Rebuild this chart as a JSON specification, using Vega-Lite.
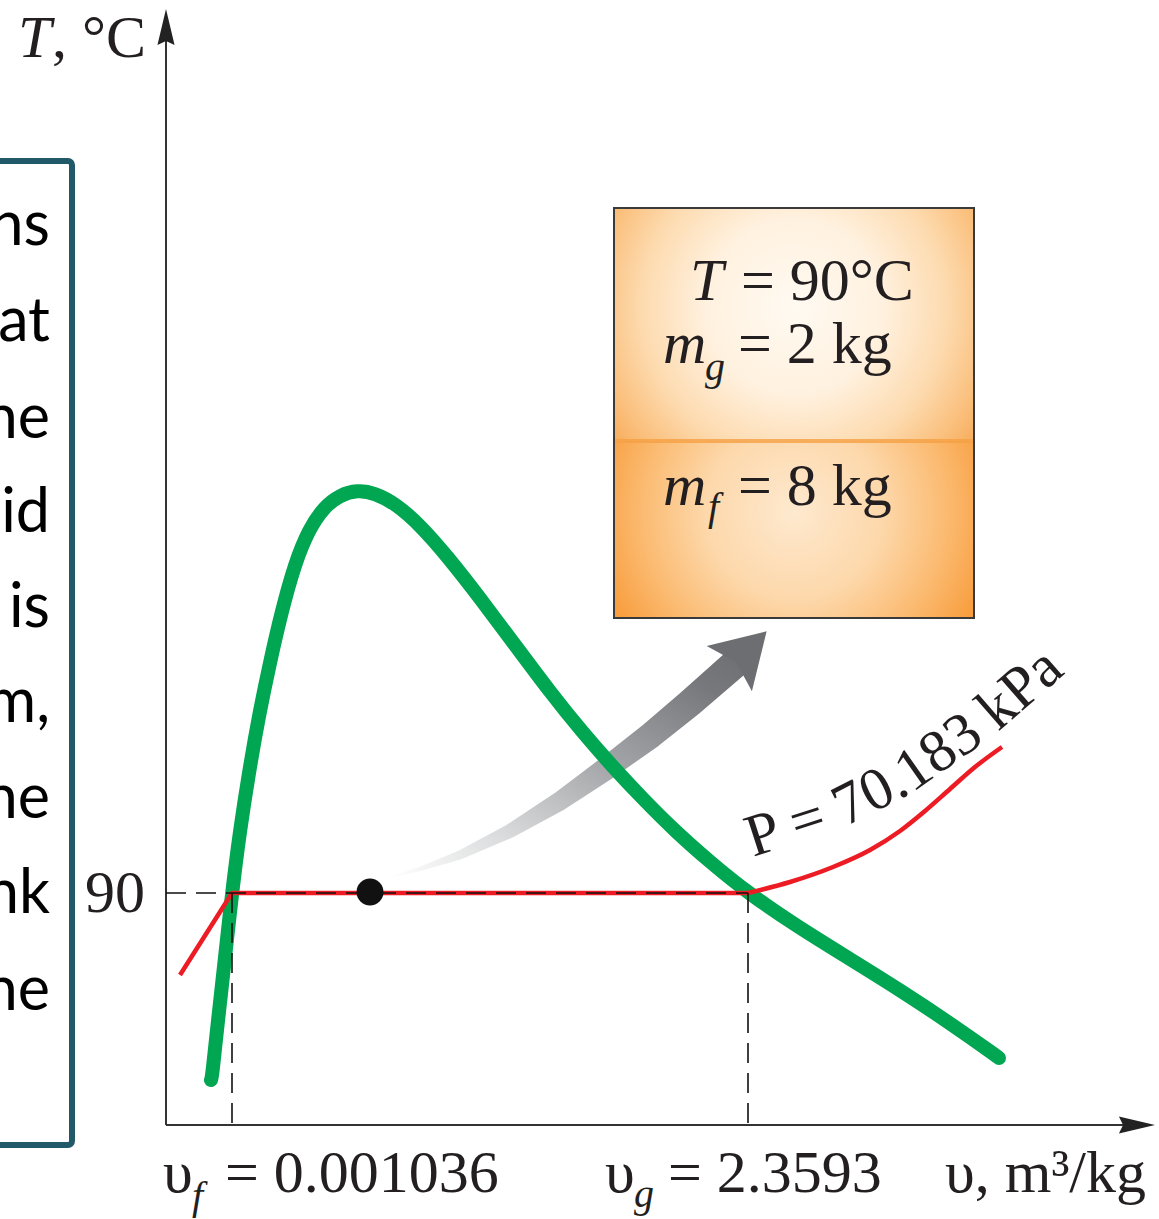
{
"$schema": "https://vega.github.io/schema/vega-lite/v6.json",
"width": 1159, "height": 1219, "padding": 0, "autosize": {"type": "none"},
"background": "white",
"config": {"view": {"stroke": null}},
"datasets": {
 "leftbox": [{"x": -20, "x2": 72, "y": 161, "y2": 1145}],
 "lefttext": [{"x":50,"y":245,"t":"ns"},{"x":50,"y":341,"t":"at"},{"x":50,"y":438,"t":"he"},{"x":50,"y":532,"t":"id"},{"x":50,"y":627,"t":"is"},{"x":50,"y":722,"t":"m,"},{"x":50,"y":818,"t":"he"},{"x":50,"y":913,"t":"nk"},{"x":50,"y":1010,"t":"he"}],
 "axes": [{"x":166,"y":1125,"x2":166,"y2":40},{"x":166,"y":1125,"x2":1140,"y2":1125}],
 "yarrow": [{"x":166,"y":28}],
 "xarrow": [{"x":1136,"y":1125}],
 "trail": [{"x":388,"y":878,"s":1,"o":1},{"x":420,"y":869,"s":4,"o":2},{"x":460,"y":855,"s":9,"o":3},{"x":510,"y":831,"s":14,"o":4},{"x":560,"y":801,"s":19,"o":5},{"x":607,"y":768,"s":23,"o":6},{"x":650,"y":736,"s":26,"o":7},{"x":690,"y":703,"s":28,"o":8},{"x":738,"y":661,"s":29,"o":9}],
 "ghead": [{"x":744,"y":654}],
 "green": [{"x":211,"y":1080,"o":1},{"x":212,"y":1078,"o":2},{"x":218,"y":1020,"o":3},{"x":225,"y":958,"o":4},{"x":232,"y":893,"o":5},{"x":240,"y":830,"o":6},{"x":249,"y":772,"o":7},{"x":259,"y":715,"o":8},{"x":270,"y":662,"o":9},{"x":282,"y":610,"o":10},{"x":295,"y":563,"o":11},{"x":309,"y":529,"o":12},{"x":324,"y":507,"o":13},{"x":340,"y":495,"o":14},{"x":357,"y":490,"o":15},{"x":375,"y":493,"o":16},{"x":396,"y":504,"o":17},{"x":420,"y":525,"o":18},{"x":448,"y":557,"o":19},{"x":480,"y":598,"o":20},{"x":515,"y":645,"o":21},{"x":550,"y":692,"o":22},{"x":583,"y":733,"o":23},{"x":613,"y":767,"o":24},{"x":643,"y":799,"o":25},{"x":675,"y":831,"o":26},{"x":710,"y":862,"o":27},{"x":748,"y":893,"o":28},{"x":798,"y":927,"o":29},{"x":850,"y":959,"o":30},{"x":900,"y":990,"o":31},{"x":950,"y":1023,"o":32},{"x":998,"y":1057,"o":33},{"x":999,"y":1058,"o":34}],
 "redliquid": [{"x":180,"y":975,"o":1},{"x":232,"y":893,"o":2},{"x":748,"y":893,"o":3}],
 "redvapor": [{"x":748,"y":893,"o":1},{"x":790,"y":882,"o":2},{"x":833,"y":867,"o":3},{"x":870,"y":850,"o":4},{"x":900,"y":831,"o":5},{"x":925,"y":811,"o":6},{"x":950,"y":789,"o":7},{"x":975,"y":767,"o":8},{"x":1002,"y":747,"o":9}],
 "dashes": [{"x":166,"y":893,"x2":748,"y2":893},{"x":232,"y":893,"x2":232,"y2":1125},{"x":748,"y":893,"x2":748,"y2":1125}],
 "dot": [{"x":370,"y":892}],
 "boxtop": [{"x":614,"x2":974,"y":208,"y2":441}],
 "boxbot": [{"x":614,"x2":974,"y":441,"y2":618}],
 "boxline": [{"x":614,"x2":974,"y":441}],
 "boxframe": [{"x":614,"x2":974,"y":208,"y2":618}],
 "serif60": [{"x":52,"y":57,"t":", °C"},{"x":85,"y":912,"t":"90"},{"x":163,"y":1192,"t":"υ"},{"x":225,"y":1192,"t":"= 0.001036"},{"x":605,"y":1192,"t":"υ"},{"x":668,"y":1192,"t":"= 2.3593"},{"x":945,"y":1192,"t":"υ, m³/kg"}],
 "serifbox": [{"x":741,"y":300,"t":"= 90°C"},{"x":738,"y":363,"t":"= 2 kg"},{"x":738,"y":505,"t":"= 8 kg"}],
 "italic": [{"x":690,"y":300,"t":"T"},{"x":663,"y":363,"t":"m"},{"x":663,"y":505,"t":"m"}],
 "italicaxis": [{"x":18,"y":57,"t":"T"}],
 "subs": [{"x":705,"y":380,"t":"g"},{"x":708,"y":520,"t":"f"},{"x":192,"y":1209,"t":"f"},{"x":634,"y":1207,"t":"g"}],
 "p1": [{"x":753,"y":857,"t":"P ="}],
 "p2": [{"x":845,"y":827,"t":"70."}],
 "p3": [{"x":912,"y":793,"t":"183"}],
 "p4": [{"x":998,"y":732,"t":"kPa"}]
},
"layer": [
 {"data":{"name":"leftbox"},"mark":{"type":"rect","fillOpacity":0,"stroke":"#215968","strokeWidth":6,"cornerRadius":4},
  "encoding":{"x":{"field":"x","type":"quantitative","scale":{"domain":[0,1159],"nice":false,"zero":false},"axis":null},"x2":{"field":"x2"},
   "y":{"field":"y","type":"quantitative","scale":{"domain":[0,1219],"nice":false,"zero":false,"reverse":true},"axis":null},"y2":{"field":"y2"}}},
 {"data":{"name":"lefttext"},"mark":{"type":"text","font":"Lato","fontSize":61,"align":"right","baseline":"alphabetic","color":"#000000"},
  "encoding":{"x":{"field":"x","type":"quantitative"},"y":{"field":"y","type":"quantitative"},"text":{"field":"t"}}},
 {"data":{"name":"axes"},"mark":{"type":"rule","color":"#333333","strokeWidth":2},
  "encoding":{"x":{"field":"x","type":"quantitative"},"x2":{"field":"x2"},"y":{"field":"y","type":"quantitative"},"y2":{"field":"y2"}}},
 {"data":{"name":"yarrow"},"mark":{"type":"point","shape":"M0,-1L0.45,0.9L0,0.68L-0.45,0.9Z","size":1444,"filled":true,"color":"#222222","opacity":1,"strokeWidth":0,"angle":0},
  "encoding":{"x":{"field":"x","type":"quantitative"},"y":{"field":"y","type":"quantitative"}}},
 {"data":{"name":"xarrow"},"mark":{"type":"point","shape":"M0,-1L0.45,0.9L0,0.68L-0.45,0.9Z","size":1444,"filled":true,"color":"#222222","opacity":1,"strokeWidth":0,"angle":90},
  "encoding":{"x":{"field":"x","type":"quantitative"},"y":{"field":"y","type":"quantitative"}}},
 {"data":{"name":"trail"},"mark":{"type":"trail","fill":{"gradient":"linear","x1":0,"y1":1,"x2":1,"y2":0,"stops":[{"offset":0,"color":"#ffffff"},{"offset":0.25,"color":"#dadbdc"},{"offset":0.55,"color":"#a3a5a8"},{"offset":0.85,"color":"#77787b"},{"offset":1,"color":"#6d6e71"}]},"stroke":null,"interpolate":"basis"},
  "encoding":{"x":{"field":"x","type":"quantitative"},"y":{"field":"y","type":"quantitative"},"order":{"field":"o"},"size":{"field":"s","type":"quantitative","scale":null}}},
 {"data":{"name":"ghead"},"mark":{"type":"point","shape":"M0,-1L1,0.65L0,0.35L-1,0.65Z","size":4096,"filled":true,"color":"#6d6e71","opacity":1,"strokeWidth":0,"angle":45},
  "encoding":{"x":{"field":"x","type":"quantitative"},"y":{"field":"y","type":"quantitative"}}},
 {"data":{"name":"green"},"mark":{"type":"line","color":"#00a651","strokeWidth":14,"strokeCap":"round","interpolate":"basis"},
  "encoding":{"x":{"field":"x","type":"quantitative"},"y":{"field":"y","type":"quantitative"},"order":{"field":"o"}}},
 {"data":{"name":"redliquid"},"mark":{"type":"line","color":"#ed1c24","strokeWidth":4.5,"interpolate":"linear","strokeJoin":"round"},
  "encoding":{"x":{"field":"x","type":"quantitative"},"y":{"field":"y","type":"quantitative"},"order":{"field":"o"}}},
 {"data":{"name":"redvapor"},"mark":{"type":"line","color":"#ed1c24","strokeWidth":4.5,"interpolate":"monotone"},
  "encoding":{"x":{"field":"x","type":"quantitative"},"y":{"field":"y","type":"quantitative"},"order":{"field":"o"}}},
 {"data":{"name":"dashes"},"mark":{"type":"rule","color":"#111111","strokeWidth":1.6,"strokeDash":[20,10]},
  "encoding":{"x":{"field":"x","type":"quantitative"},"x2":{"field":"x2"},"y":{"field":"y","type":"quantitative"},"y2":{"field":"y2"}}},
 {"data":{"name":"dot"},"mark":{"type":"point","shape":"circle","size":729,"filled":true,"color":"#111111","opacity":1},
  "encoding":{"x":{"field":"x","type":"quantitative"},"y":{"field":"y","type":"quantitative"}}},
 {"data":{"name":"boxtop"},"mark":{"type":"rect","stroke":null,"fill":{"gradient":"radial","x1":0.5,"y1":0.45,"r1":0,"x2":0.5,"y2":0.45,"r2":0.7,"stops":[{"offset":0,"color":"#fffaf2"},{"offset":0.35,"color":"#fff1df"},{"offset":0.6,"color":"#fddbb0"},{"offset":0.8,"color":"#fabd78"},{"offset":1,"color":"#f4993a"}]}},
  "encoding":{"x":{"field":"x","type":"quantitative"},"x2":{"field":"x2"},"y":{"field":"y","type":"quantitative"},"y2":{"field":"y2"}}},
 {"data":{"name":"boxbot"},"mark":{"type":"rect","stroke":null,"fill":{"gradient":"radial","x1":0.5,"y1":0.45,"r1":0,"x2":0.5,"y2":0.45,"r2":0.7,"stops":[{"offset":0,"color":"#fee9cf"},{"offset":0.35,"color":"#fdd8ab"},{"offset":0.6,"color":"#fbbb72"},{"offset":0.8,"color":"#f89f40"},{"offset":1,"color":"#ef8918"}]}},
  "encoding":{"x":{"field":"x","type":"quantitative"},"x2":{"field":"x2"},"y":{"field":"y","type":"quantitative"},"y2":{"field":"y2"}}},
 {"data":{"name":"boxline"},"mark":{"type":"rule","color":"#f5a044","strokeWidth":4,"opacity":0.8},
  "encoding":{"x":{"field":"x","type":"quantitative"},"x2":{"field":"x2"},"y":{"field":"y","type":"quantitative"}}},
 {"data":{"name":"boxframe"},"mark":{"type":"rect","fillOpacity":0,"stroke":"#3a3a3a","strokeWidth":2},
  "encoding":{"x":{"field":"x","type":"quantitative"},"x2":{"field":"x2"},"y":{"field":"y","type":"quantitative"},"y2":{"field":"y2"}}},
 {"data":{"name":"serif60"},"mark":{"type":"text","font":"Liberation Serif","fontSize":60,"align":"left","baseline":"alphabetic","color":"#231f20"},
  "encoding":{"x":{"field":"x","type":"quantitative"},"y":{"field":"y","type":"quantitative"},"text":{"field":"t"}}},
 {"data":{"name":"serifbox"},"mark":{"type":"text","font":"Liberation Serif","fontSize":60,"align":"left","baseline":"alphabetic","color":"#231f20"},
  "encoding":{"x":{"field":"x","type":"quantitative"},"y":{"field":"y","type":"quantitative"},"text":{"field":"t"}}},
 {"data":{"name":"italic"},"mark":{"type":"text","font":"Liberation Serif","fontStyle":"italic","fontSize":60,"align":"left","baseline":"alphabetic","color":"#231f20"},
  "encoding":{"x":{"field":"x","type":"quantitative"},"y":{"field":"y","type":"quantitative"},"text":{"field":"t"}}},
 {"data":{"name":"italicaxis"},"mark":{"type":"text","font":"Liberation Serif","fontStyle":"italic","fontSize":60,"align":"left","baseline":"alphabetic","color":"#231f20"},
  "encoding":{"x":{"field":"x","type":"quantitative"},"y":{"field":"y","type":"quantitative"},"text":{"field":"t"}}},
 {"data":{"name":"subs"},"mark":{"type":"text","font":"Liberation Serif","fontStyle":"italic","fontSize":40,"align":"left","baseline":"alphabetic","color":"#231f20"},
  "encoding":{"x":{"field":"x","type":"quantitative"},"y":{"field":"y","type":"quantitative"},"text":{"field":"t"}}},
 {"data":{"name":"p1"},"mark":{"type":"text","font":"Liberation Serif","fontSize":60,"align":"left","baseline":"alphabetic","color":"#231f20","angle":-18},
  "encoding":{"x":{"field":"x","type":"quantitative"},"y":{"field":"y","type":"quantitative"},"text":{"field":"t"}}},
 {"data":{"name":"p2"},"mark":{"type":"text","font":"Liberation Serif","fontSize":60,"align":"left","baseline":"alphabetic","color":"#231f20","angle":-27},
  "encoding":{"x":{"field":"x","type":"quantitative"},"y":{"field":"y","type":"quantitative"},"text":{"field":"t"}}},
 {"data":{"name":"p3"},"mark":{"type":"text","font":"Liberation Serif","fontSize":60,"align":"left","baseline":"alphabetic","color":"#231f20","angle":-35},
  "encoding":{"x":{"field":"x","type":"quantitative"},"y":{"field":"y","type":"quantitative"},"text":{"field":"t"}}},
 {"data":{"name":"p4"},"mark":{"type":"text","font":"Liberation Serif","fontSize":60,"align":"left","baseline":"alphabetic","color":"#231f20","angle":-41},
  "encoding":{"x":{"field":"x","type":"quantitative"},"y":{"field":"y","type":"quantitative"},"text":{"field":"t"}}}
]
}
